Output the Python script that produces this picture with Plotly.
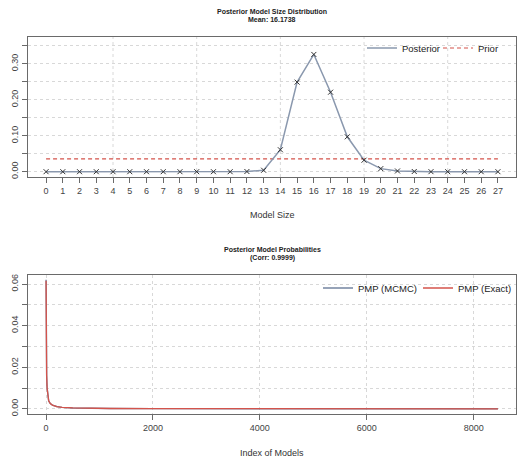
"""Posterior model size and posterior model probabilities"""

import plotly.graph_objects as go

# Model size distribution (top panel)
model_size = list(range(28))
posterior_size = [0.0, 0.0, 0.0, 0.0, 0.0, 0.0, 0.0, 0.0, 0.0, 0.0,
                  0.0, 0.0, 0.0005, 0.004, 0.061, 0.249, 0.326, 0.221,
                  0.097, 0.032, 0.0085, 0.002, 0.0005, 0.0001, 0.0, 0.0,
                  0.0, 0.0]
prior_size = [1 / 28] * 28
mean_size = 16.1738

# Posterior model probabilities (bottom panel), read at selected model indices
model_index = [1, 2, 3, 5, 8, 12, 20, 30, 50, 80, 120, 200, 300, 500,
               800, 1200, 2000, 3500, 5000, 7000, 8453]
pmp_mcmc = [0.0621, 0.0478, 0.0398, 0.0301, 0.0221, 0.0160, 0.0101,
            0.0066, 0.0038, 0.0025, 0.0018, 0.0011, 0.0007, 0.0004,
            0.00025, 0.00015, 0.00008, 0.00004, 0.00002, 0.00001,
            0.000005]
pmp_exact = [0.0616, 0.0480, 0.0400, 0.0300, 0.0220, 0.0160, 0.0100,
             0.0065, 0.0038, 0.0025, 0.0018, 0.0011, 0.0007, 0.0004,
             0.00025, 0.00015, 0.00008, 0.00004, 0.00002, 0.00001,
             0.000005]
corr = 0.9999

top_yticks = [0, 0.05, 0.10, 0.15, 0.20, 0.25, 0.30, 0.35]
top_ylabels = ["0.00", "", "0.10", "", "0.20", "", "0.30", ""]
top_xgrid = [4, 9, 14, 19, 24]
bot_yticks = [0, 0.01, 0.02, 0.03, 0.04, 0.05, 0.06]
bot_ylabels = ["0.00", "", "0.02", "", "0.04", "", "0.06"]
bot_xticks = [0, 2000, 4000, 6000, 8000]

FONT = "Liberation Sans, Arial, sans-serif"
GREY_BLUE = "#8A98AE"
BLUE = "#7384A0"
RED = "#D4534B"
GRID = "#D8D8D8"
AXIS = "#6A6A6A"

# the page puts the figure 8px in from the top-left corner
PAGE_OFFSET = 8


def paper_y(py):
    """Reference pixel row -> paper y (plot area: rows 37..414)."""
    return 1 + (37 - py) / 377


def paper_x(px):
    """Reference pixel column -> paper x (plot area: columns 28..516)."""
    return (px - 28) / 488


fig = go.Figure()

# Top panel
fig.add_trace(go.Scatter(
    x=model_size, y=prior_size, mode="lines", name="Prior",
    line=dict(color=RED, width=1.1, dash="4px,3px"),
    xaxis="x", yaxis="y", legend="legend", legendrank=2,
))
fig.add_trace(go.Scatter(
    x=model_size, y=posterior_size, mode="lines", name="Posterior",
    line=dict(color=GREY_BLUE, width=1.5),
    xaxis="x", yaxis="y", legend="legend", legendrank=1,
))
fig.add_trace(go.Scatter(
    x=model_size, y=posterior_size, mode="markers", showlegend=False,
    marker=dict(symbol="x-thin-open", size=5, color="#333333",
                line=dict(width=1, color="#333333")),
    xaxis="x", yaxis="y",
))

# Bottom panel
fig.add_trace(go.Scatter(
    x=model_index, y=pmp_mcmc, mode="lines", name="PMP (MCMC)",
    line=dict(color=BLUE, width=1.4),
    xaxis="x2", yaxis="y2", legend="legend2",
))
fig.add_trace(go.Scatter(
    x=model_index, y=pmp_exact, mode="lines", name="PMP (Exact)",
    line=dict(color=RED, width=1.3),
    xaxis="x2", yaxis="y2", legend="legend2",
))

# Extra vertical grid for the top panel
for gx in top_xgrid:
    fig.add_shape(type="line", xref="x", yref="y domain", x0=gx, x1=gx,
                  y0=0, y1=1, layer="below",
                  line=dict(color=GRID, width=1, dash="dot"))

axis_common = dict(
    showline=True, mirror=True, linecolor=AXIS, linewidth=1,
    ticks="outside", ticklen=5, tickcolor=AXIS,
    tickfont=dict(size=9, color="#444444", family=FONT),
    gridcolor=GRID, griddash="dot", gridwidth=1, zeroline=False,
)

fig.update_layout(
    width=526 - PAGE_OFFSET, height=465 - PAGE_OFFSET,
    margin=dict(l=28 - PAGE_OFFSET, r=10, t=37 - PAGE_OFFSET, b=51,
                autoexpand=False),
    plot_bgcolor="white", paper_bgcolor="white",
    font=dict(family=FONT, color="#333333"),
    xaxis=dict(axis_common, domain=[0, 1], range=[-1.08, 28.08],
               tickvals=model_size, showgrid=False, anchor="y"),
    yaxis=dict(axis_common, domain=[0.6286, 1], range=[-0.0148, 0.3745],
               tickvals=top_yticks, ticktext=top_ylabels, tickangle=-90,
               anchor="x"),
    xaxis2=dict(axis_common, domain=[0, 1], range=[-337, 8791],
                tickvals=bot_xticks, anchor="y2"),
    yaxis2=dict(axis_common, domain=[0, 0.3687], range=[-0.0025, 0.0644],
                tickvals=bot_yticks, ticktext=bot_ylabels, tickangle=-90,
                anchor="x2"),
    legend=dict(orientation="h", x=paper_x(362), y=paper_y(48),
                xanchor="left", yanchor="middle",
                bgcolor="rgba(0,0,0,0)",
                itemwidth=30, entrywidth=31, entrywidthmode="pixels",
                font=dict(size=9.5, color="#222222")),
    legend2=dict(orientation="h", x=paper_x(318), y=paper_y(288),
                 xanchor="left", yanchor="middle",
                 bgcolor="rgba(0,0,0,0)",
                 itemwidth=30, entrywidth=55, entrywidthmode="pixels",
                 font=dict(size=9.5, color="#222222")),
    showlegend=True,
)

# Titles and axis labels as annotations
titles = [
    ("Posterior Model Size Distribution", 11),
    (f"Mean: {mean_size}", 20),
    ("Posterior Model Probabilities", 249),
    (f"(Corr: {corr})", 258),
]
for text, py in titles:
    fig.add_annotation(text=f"<b>{text}</b>", xref="paper", yref="paper",
                       x=0.5, y=paper_y(py), showarrow=False,
                       xanchor="center", yanchor="middle",
                       font=dict(size=7, color="#222222", family=FONT))

for text, py in [("Model Size", 215), ("Index of Models", 453)]:
    fig.add_annotation(text=text, xref="paper", yref="paper",
                       x=0.5, y=paper_y(py), showarrow=False,
                       xanchor="center", yanchor="middle",
                       font=dict(size=9, color="#333333", family=FONT))

fig.write_html("out.html")
